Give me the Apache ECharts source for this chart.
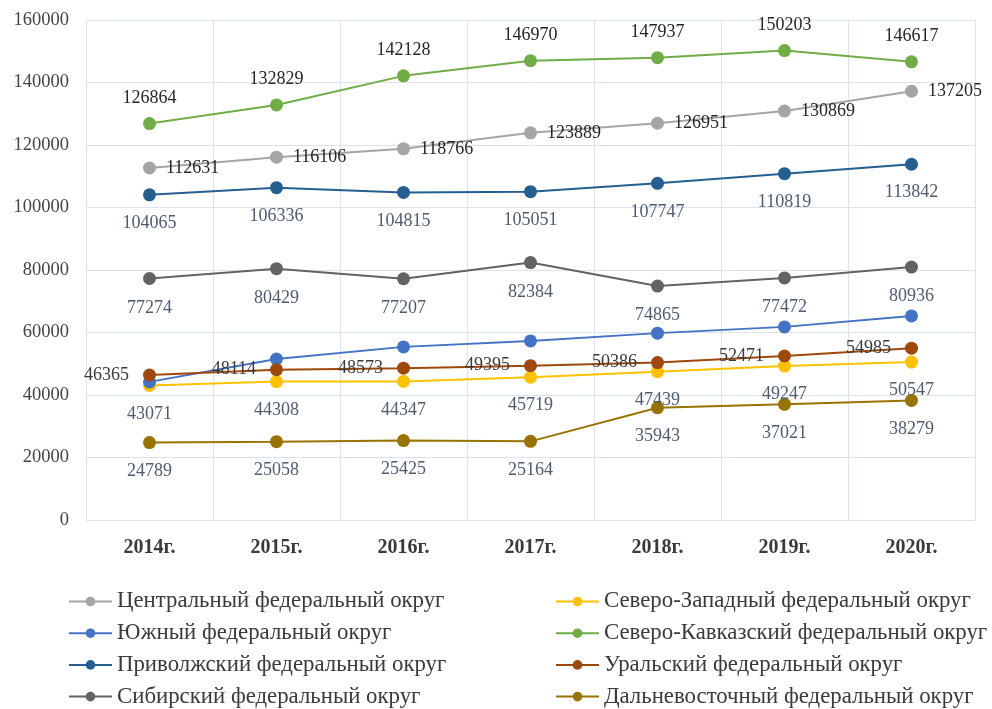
<!DOCTYPE html>
<html>
<head>
<meta charset="utf-8">
<script src="https://cdn.jsdelivr.net/npm/echarts@6/dist/echarts.min.js"></script>
<style>
  html, body { margin: 0; padding: 0; background: #ffffff; }
  #chart { width: 992px; height: 709px; }
</style>
</head>
<body>
<div id="chart"></div>
<script>
// Years on the horizontal axis
const years = ['2014г.', '2015г.', '2016г.', '2017г.', '2018г.', '2019г.', '2020г.'];

// Values per federal district
const central      = [112631, 116106, 118766, 123889, 126951, 130869, 137205];
const northWest    = [43071, 44308, 44347, 45719, 47439, 49247, 50547];
const southern     = [44200, 51500, 55400, 57300, 59800, 61800, 65300];
const northCauc    = [126864, 132829, 142128, 146970, 147937, 150203, 146617];
const volga        = [104065, 106336, 104815, 105051, 107747, 110819, 113842];
const ural         = [46365, 48114, 48573, 49395, 50386, 52471, 54985];
const siberian     = [77274, 80429, 77207, 82384, 74865, 77472, 80936];
const farEast      = [24789, 25058, 25425, 25164, 35943, 37021, 38279];

const FONT = '"Liberation Serif", "Times New Roman", serif';

function lineSeries(name, data, color, labelPos, labelColor, showLabel, dist) {
  return {
    name: name,
    type: 'line',
    data: data,
    symbol: 'circle',
    symbolSize: 13,
    lineStyle: { width: 2, color: color },
    itemStyle: { color: color },
    label: {
      show: showLabel,
      position: labelPos,
      distance: dist,
      fontFamily: FONT,
      fontSize: 18,
      color: labelColor
    },
    emphasis: { disabled: true },
    animation: false
  };
}

const chart = echarts.init(document.getElementById('chart'), null, { renderer: 'canvas' });

const legendText = { fontFamily: FONT, fontSize: 22.8, lineHeight: 23, color: '#3a3a3a' };

chart.setOption({
  backgroundColor: '#ffffff',
  animation: false,
  grid: { left: 86, right: 17, top: 20, bottom: 189 },
  xAxis: {
    type: 'category',
    data: years,
    boundaryGap: true,
    axisLine: { show: false },
    axisTick: { show: false },
    splitLine: { show: true, lineStyle: { color: '#dde3ec', width: 1 } },
    axisLabel: {
      fontFamily: FONT,
      fontSize: 20,
      fontWeight: 'bold',
      color: '#3a3a3a',
      margin: 18
    }
  },
  yAxis: {
    type: 'value',
    min: 0,
    max: 160000,
    interval: 20000,
    axisLine: { show: false },
    axisTick: { show: false },
    splitLine: { show: true, lineStyle: { color: '#dde3ec', width: 1 } },
    axisLabel: {
      fontFamily: FONT,
      fontSize: 18.5,
      color: '#444444',
      margin: 17,
      formatter: function (v) { return String(v); }
    }
  },
  legend: [
    {
      orient: 'vertical',
      left: 68,
      top: 590,
      height: 130,
      padding: 0,
      itemWidth: 43,
      itemHeight: 12,
      itemGap: 8.7,
      textStyle: legendText,
      data: ['Центральный федеральный округ', 'Южный федеральный округ',
             'Приволжский федеральный округ', 'Сибирский федеральный округ']
    },
    {
      orient: 'vertical',
      left: 555,
      top: 590,
      height: 130,
      padding: 0,
      itemWidth: 43,
      itemHeight: 12,
      itemGap: 8.7,
      textStyle: legendText,
      data: ['Северо-Западный федеральный округ', 'Северо-Кавказский федеральный округ',
             'Уральский федеральный округ', 'Дальневосточный федеральный округ']
    }
  ],
  series: [
    lineSeries('Центральный федеральный округ', central, '#a5a5a5', 'right', '#262626', true, 10),
    lineSeries('Северо-Западный федеральный округ', northWest, '#ffc000', 'bottom', '#4f5b6e', true, 13),
    lineSeries('Южный федеральный округ', southern, '#4472c4', 'top', '#4f5b6e', false, 10),
    lineSeries('Северо-Кавказский федеральный округ', northCauc, '#70ad47', 'top', '#262626', true, 10),
    lineSeries('Приволжский федеральный округ', volga, '#255e91', 'bottom', '#4f5b6e', true, 13),
    lineSeries('Уральский федеральный округ', ural, '#9e480e', 'left', '#3a3a3a', true, 14),
    lineSeries('Сибирский федеральный округ', siberian, '#636363', 'bottom', '#4f5b6e', true, 14),
    lineSeries('Дальневосточный федеральный округ', farEast, '#997300', 'bottom', '#4f5b6e', true, 13)
  ]
});
</script>
</body>
</html>
